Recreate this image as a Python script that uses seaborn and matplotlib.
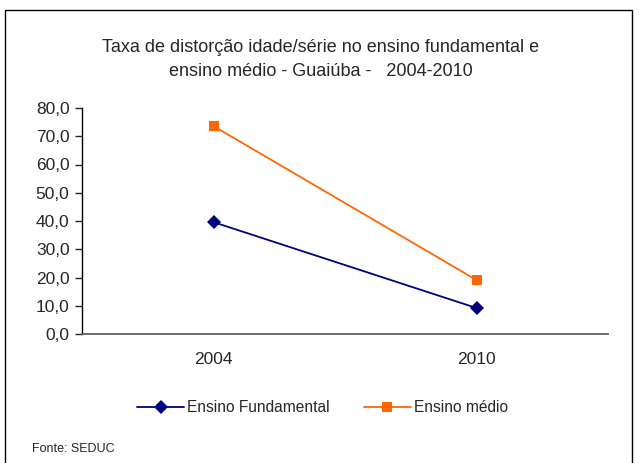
import pandas as pd
import matplotlib.pyplot as plt
import matplotlib.ticker as mticker
from matplotlib.patches import Rectangle
import seaborn as sns

# data
years = ["2004", "2010"]
fundamental = [39.6, 9.2]
medio = [73.6, 19.1]
series_names = ["Ensino Fundamental", "Ensino médio"]

df = pd.DataFrame({
    "ano": years * 2,
    "taxa": fundamental + medio,
    "serie": [series_names[0]] * 2 + [series_names[1]] * 2,
})

sns.set_style("white")
plt.rcParams["font.family"] = ["Liberation Sans", "DejaVu Sans"]

fig = plt.figure(figsize=(6.39, 4.63), dpi=100)
ax = fig.add_axes([82 / 639, 1 - 334 / 463, (608 - 82) / 639, (334 - 108) / 463])

sns.lineplot(data=df, x="ano", y="taxa", hue="serie", style="serie",
             palette={series_names[0]: "#000080", series_names[1]: "#FF6600"},
             markers={series_names[0]: "D", series_names[1]: "s"},
             dashes=False, markersize=7, linewidth=1.3, markeredgewidth=0,
             ax=ax, legend=True)

ax.set_xlim(-0.5, 1.5)
ax.set_ylim(0, 80)
ax.yaxis.set_major_locator(mticker.MultipleLocator(10))
ax.yaxis.set_major_formatter(mticker.FuncFormatter(lambda v, p: f"{v:.1f}".replace(".", ",")))
ax.set_xticks([0, 1])
ax.set_xticks([-0.5, 0.5, 1.5], minor=True)
ax.tick_params(axis="x", which="major", length=0, pad=13, labelsize=12.5)
ax.tick_params(axis="x", which="minor", length=5, width=1, color="black", direction="out")
ax.tick_params(axis="y", length=5, width=1, direction="out", left=True, labelsize=12.5, pad=4)
ax.set_xlabel("")
ax.set_ylabel("")

for s in ["top", "right"]:
    ax.spines[s].set_visible(False)
ax.spines["left"].set_color("black")
ax.spines["bottom"].set_color("#606060")
ax.spines["left"].set_linewidth(1)
ax.spines["bottom"].set_linewidth(1.3)

ax.legend(loc="center", bbox_to_anchor=(0.505, 1 - 408 / 463), bbox_transform=fig.transFigure,
          ncol=2, frameon=False, fontsize=11.2, handlelength=3.0, columnspacing=2.2,
          handletextpad=0.2)

fig.text(321 / 639, 1 - 47 / 463, "Taxa de distorção idade/série no ensino fundamental e",
         ha="center", va="center", fontsize=13)
fig.text(321 / 639, 1 - 72 / 463, "ensino médio - Guaiúba -   2004-2010",
         ha="center", va="center", fontsize=13)
fig.text(32 / 639, 1 - 449 / 463, "Fonte: SEDUC", ha="left", va="center", fontsize=9)

# outer chart border
fig.patches.append(Rectangle((5 / 639, -0.05), (632 - 5) / 639, 1 - 10 / 463 + 0.05,
                             transform=fig.transFigure, fill=False,
                             edgecolor="black", linewidth=1))

fig.savefig("out.png", dpi=100)
